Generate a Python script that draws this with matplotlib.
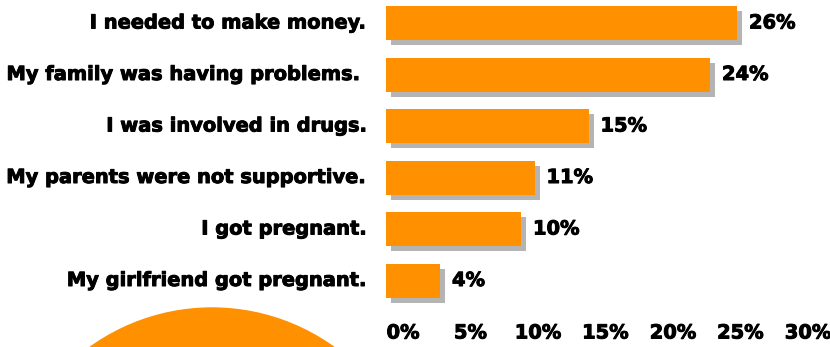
import matplotlib
matplotlib.use("Agg")
import matplotlib.pyplot as plt
import matplotlib.transforms as mtransforms
import matplotlib.patheffects as pe
from matplotlib.patches import Ellipse

# data
reasons = [
    "I needed to make money.",
    "My family was having problems. ",
    "I was involved in drugs.",
    "My parents were not supportive.",
    "I got pregnant.",
    "My girlfriend got pregnant.",
]
percents = [26, 24, 15, 11, 10, 4]
tick_values = [0, 5, 10, 15, 20, 25, 30]

orange = "#FF9100"
shadow = "#B4B4B4"
font = "DejaVu Sans"
# fake a heavier weight (the original looks like Arial Black)
heavy = [pe.withStroke(linewidth=0.7, foreground="black")]

fig = plt.figure(figsize=(8.3, 3.47), dpi=100)
ax = fig.add_axes([386 / 830, 1 - 306 / 347, 405 / 830, 306 / 347])

ypos = list(range(len(reasons)))

# gray drop shadow, shifted 5px right and 5px down
shift = mtransforms.ScaledTranslation(5 / 100, -5 / 100, fig.dpi_scale_trans)
ax.barh(ypos, percents, height=0.66, color=shadow, transform=ax.transData + shift, zorder=1)
ax.barh(ypos, percents, height=0.66, color=orange, zorder=2)

# value labels
lab_shift = mtransforms.ScaledTranslation(12 / 100, 0, fig.dpi_scale_trans)
for y, v in zip(ypos, percents):
    ax.text(v, y, f"{v}%", ha="left", va="center", fontsize=14, fontweight="bold",
            family=font, path_effects=heavy, transform=ax.transData + lab_shift)

# category labels on the left
left_tr = mtransforms.blended_transform_factory(ax.transAxes, ax.transData) + \
    mtransforms.ScaledTranslation(-19 / 100, 0, fig.dpi_scale_trans)
for y, r in zip(ypos, reasons):
    ax.text(0, y, r, ha="right", va="center", fontsize=14, fontweight="bold",
            family=font, path_effects=heavy, transform=left_tr)

ax.set_xlim(0, 30)
ax.set_ylim(5.495, -0.447)
ax.set_xticks(tick_values)
ax.set_xticklabels([])
ax.tick_params(axis="x", length=0)
# axis labels drawn by hand: they sit a bit right of their ticks in the original
tick_tr = mtransforms.blended_transform_factory(ax.transData, ax.transAxes) + \
    mtransforms.ScaledTranslation(17 / 100, -27 / 100, fig.dpi_scale_trans)
for t in tick_values:
    ax.text(t, 0, f"{t}%", ha="center", va="center", fontsize=14, fontweight="bold",
            family=font, path_effects=heavy, transform=tick_tr, clip_on=False)
ax.set_yticks([])
for s in ax.spines.values():
    s.set_visible(False)

# orange dome at the bottom left
fig.patches.append(Ellipse((212 / 830, 1 - 517 / 347), 2 * 209 / 830, 2 * 209 / 347,
                           color=orange, transform=fig.transFigure, zorder=0))

fig.savefig("out.png", dpi=100)
